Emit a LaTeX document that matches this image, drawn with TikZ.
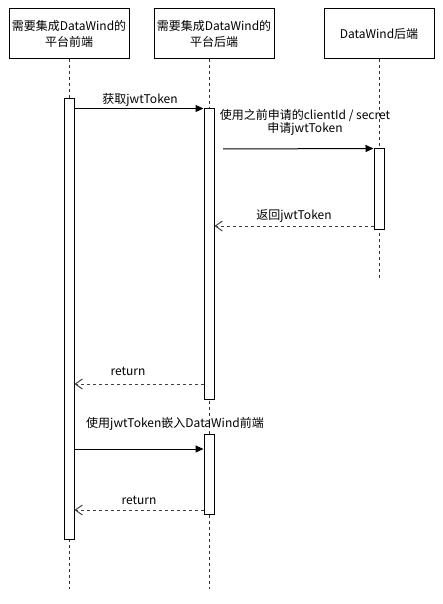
\documentclass[tikz,border=0pt]{standalone}
\usepackage{fontspec}
\setmainfont{Noto Sans CJK SC}
\usetikzlibrary{arrows.meta}
\tikzset{
  hdr/.style={draw, line width=1pt, minimum width=120pt, minimum height=50pt, align=center, inner sep=0pt, font=\fontsize{12}{16}\selectfont},
  act/.style={draw, fill=white, line width=1pt, minimum width=10pt, inner sep=0pt},
  life/.style={draw, line width=1pt, dash pattern=on 3pt off 3pt, black!80},
  msg/.style={line width=1pt, -{Triangle[length=8pt,width=7pt]}},
  ret/.style={line width=1pt, black!75, dash pattern=on 3pt off 3pt, -{Straight Barb[length=7pt,width=10pt,line width=1pt]}},
  lbl/.style={font=\fontsize{12}{13}\selectfont, inner sep=0pt, align=center}
}
\begin{document}
\begin{tikzpicture}[x=1pt,y=-1pt]
\useasboundingbox (0,0) rectangle (442,604);
% headers
\node[hdr] (h1) at (69,34) {需要集成DataWind的\\平台前端};
\node[hdr] (h2) at (214,34) {需要集成DataWind的\\平台后端};
\node[hdr, minimum width=110pt] (h3) at (379,34) {DataWind后端};
% lifeline ends
\coordinate (e1) at (69,589);
\coordinate (e2) at (209,589);
\coordinate (e3) at (379,279);
\coordinate (t1) at (69,59);
\coordinate (t2) at (209,59);
\coordinate (t3) at (379,59);
\draw[life] (t1) -- (e1);
\draw[life] (t2) -- (e2);
\draw[life] (t3) -- (e3);
% activations
\node[act, minimum height=440pt] (a1) at (69,319) {};
\node[act, minimum height=290pt] (a2) at (209,254) {};
\node[act, minimum height=80pt] (a3) at (379,189) {};
\node[act, minimum height=80pt] (a4) at (209,474) {};
% messages
\draw[msg] (a1.east |- a2.north) -- (a2.north west);
\node[lbl] (l1) at (140,100) {获取jwtToken};
\coordinate (m2s) at (223,149);
\draw[msg] (m2s) -- (a3.north west);
\node[lbl] (l2) at (305,122.5) {使用之前申请的clientId / secret\\申请jwtToken};
\coordinate (r1y) at (0,226);
\draw[ret] (a3.west |- r1y) -- (a2.east |- r1y);
\node[lbl] (l3) at (294,216) {返回jwtToken};
\coordinate (r2y) at (0,384);
\draw[ret] (a2.west |- r2y) -- (a1.east |- r2y);
\node[lbl] (l4) at (128,371) {return};
\coordinate (m3y) at (0,449);
\draw[msg] (a1.east |- m3y) -- (a4.west |- m3y);
\node[lbl] (l5) at (175,424) {使用jwtToken嵌入DataWind前端};
\coordinate (r3y) at (0,510);
\draw[ret] (a4.west |- r3y) -- (a1.east |- r3y);
\node[lbl] (l6) at (139,500) {return};
\end{tikzpicture}
\end{document}
